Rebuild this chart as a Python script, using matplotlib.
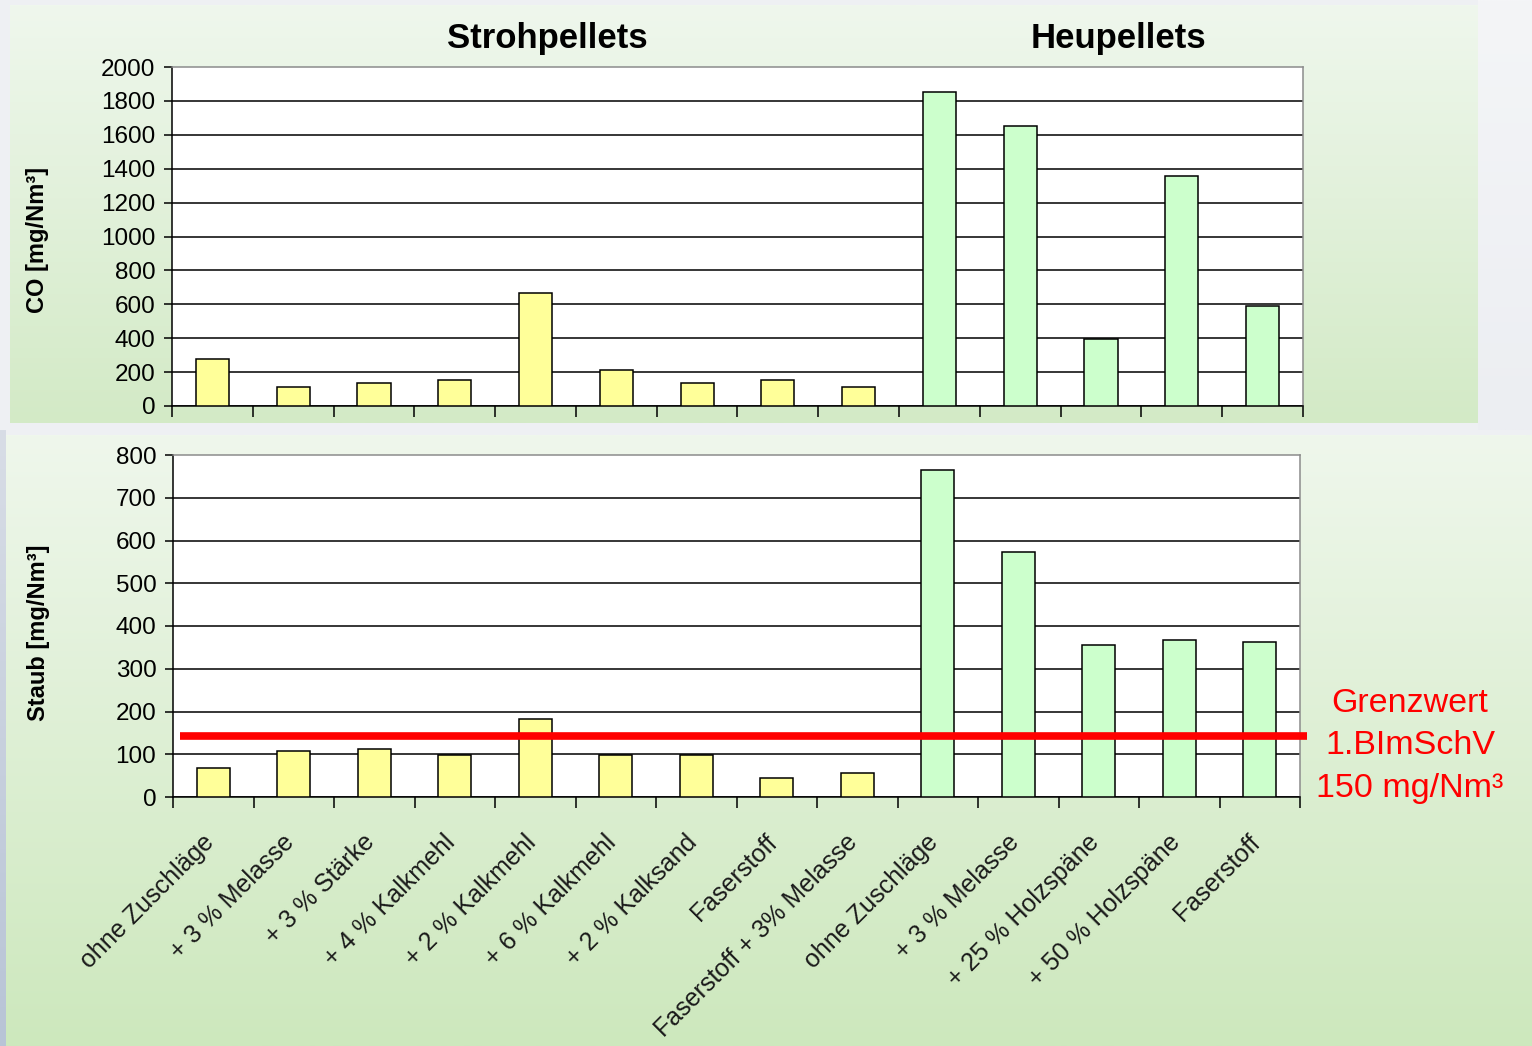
import numpy as np
import matplotlib
matplotlib.use("Agg")
import matplotlib.pyplot as plt
from matplotlib.ticker import FixedLocator, NullFormatter
import matplotlib.transforms as mtransforms

plt.rcParams['font.family'] = ['Liberation Sans', 'DejaVu Sans']

# ---------------- data ----------------
categories = ["ohne Zuschläge", "+ 3 % Melasse", "+ 3 % Stärke", "+ 4 % Kalkmehl",
              "+ 2 % Kalkmehl", "+ 6 % Kalkmehl", "+ 2 % Kalksand", "Faserstoff",
              "Faserstoff + 3% Melasse",
              "ohne Zuschläge", "+ 3 % Melasse", "+ 25 % Holzspäne", "+ 50 % Holzspäne",
              "Faserstoff"]
groups = ["Stroh"] * 9 + ["Heu"] * 5
co_values = [275, 110, 135, 155, 665, 215, 135, 155, 110,
             1850, 1650, 395, 1355, 590]
staub_values = [68, 108, 112, 98, 182, 98, 98, 44, 56,
                765, 573, 355, 367, 362]
grenzwert_line = 142      # drawn position of the 150 mg/Nm3 limit
co_ticks = list(range(0, 2001, 200))
staub_ticks = list(range(0, 801, 100))

YELLOW = "#FFFF99"
GREEN = "#CCFFCC"
colors = [YELLOW if g == "Stroh" else GREEN for g in groups]

# ---------------- figure + background ----------------
W, H = 1532, 1046
fig = plt.figure(figsize=(W / 100, H / 100), dpi=100, facecolor="#eef0f3")

bg = fig.add_axes([0, 0, 1, 1], zorder=-10)
bg.set_xlim(0, W)
bg.set_ylim(H, 0)
bg.axis("off")


def gradient(top, bottom, n=256):
    t = np.linspace(0, 1, n)[:, None, None]
    top = np.array(matplotlib.colors.to_rgb(top))[None, None, :]
    bottom = np.array(matplotlib.colors.to_rgb(bottom))[None, None, :]
    return top * (1 - t) + bottom * t


bg.imshow(gradient("#f4f5f7", "#eceef2"), extent=(1478, W, 430, 0), aspect="auto")
bg.imshow(gradient("#d8dde6", "#b8c4d6"), extent=(0, 6, H, 430), aspect="auto")
bg.imshow(gradient("#eff7ed", "#d3eac6"), extent=(10, 1478, 423, 5), aspect="auto")
bg.imshow(gradient("#eff7ec", "#cde8bd"), extent=(6, W, H, 435), aspect="auto")

x = np.arange(len(categories))
bar_w = 0.41


def style_axes(ax, ticks):
    ax.set_facecolor("white")
    ax.set_xlim(-0.5, len(categories) - 0.5)
    ax.set_ylim(ticks[0], ticks[-1])
    ax.set_yticks(ticks)
    ax.tick_params(axis="y", direction="out", length=6, width=1.1, labelsize=17.5, pad=6)
    ax.xaxis.set_major_locator(FixedLocator(np.arange(len(categories) + 1) - 0.5))
    ax.xaxis.set_major_formatter(NullFormatter())
    ax.tick_params(axis="x", which="major", direction="out", length=8, width=1.1)
    ax.grid(axis="y", color="black", linewidth=1.1)
    ax.set_axisbelow(True)
    ax.yaxis.get_gridlines()[-1].set_visible(False)
    for s in ["left", "bottom"]:
        ax.spines[s].set_color("black")
        ax.spines[s].set_linewidth(1.1)
    for s in ["top", "right"]:
        ax.spines[s].set_color("#8c8c8c")
        ax.spines[s].set_linewidth(1.1)


# ---------------- top: CO ----------------
ax1 = fig.add_axes([172 / W, 1 - 406 / H, (1303 - 172) / W, (406 - 67) / H])
ax1.bar(x, co_values, width=bar_w, color=colors, edgecolor="black", linewidth=1.1, zorder=3)
style_axes(ax1, co_ticks)
ax1.set_ylabel("CO [mg/Nm³]", fontsize=17, fontweight="bold")
ax1.yaxis.set_label_coords(-0.109, 0.49)

trans = mtransforms.blended_transform_factory(ax1.transData, ax1.transAxes)
ax1.text(4.15, 1.085, "Strohpellets", transform=trans, ha="center", va="center",
         fontsize=25, fontweight="bold")
ax1.text(11.21, 1.085, "Heupellets", transform=trans, ha="center", va="center",
         fontsize=25, fontweight="bold")

# ---------------- bottom: Staub ----------------
ax2 = fig.add_axes([173 / W, 1 - 797 / H, (1300 - 173) / W, (797 - 455) / H])
ax2.bar(x, staub_values, width=bar_w, color=colors, edgecolor="black", linewidth=1.1, zorder=3)
style_axes(ax2, staub_ticks)
ax2.set_ylabel("Staub [mg/Nm³]", fontsize=17, fontweight="bold")
ax2.yaxis.set_label_coords(-0.109, 0.48)

ax2.set_xticks(x - 0.04, minor=True)
ax2.set_xticklabels(categories, minor=True, rotation=45, ha="right", va="center",
                    rotation_mode="anchor", fontsize=18, color="#1a1a1a")
ax2.tick_params(axis="x", which="minor", length=0, pad=30)

ax2.hlines(grenzwert_line, -0.41, 13.59, color="red", linewidth=5.5, zorder=5, clip_on=False)

for txt, yp in [("Grenzwert", 703), ("1.BImSchV", 745), ("150 mg/Nm³", 788)]:
    bg.text(1410, yp, txt, ha="center", va="center", fontsize=24.5, color="red")

fig.savefig("out.png", dpi=100, facecolor=fig.get_facecolor())
